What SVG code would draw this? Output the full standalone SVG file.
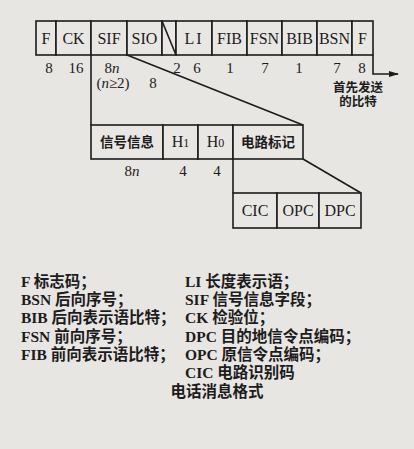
<svg xmlns="http://www.w3.org/2000/svg" width="414" height="449" viewBox="0 0 414 449">
<style>
.bg{fill:#e8e6e3}
.cell{fill:#e9e7e4;stroke:#1c1c1c;stroke-width:1.6}
.ln{fill:none;stroke:#1c1c1c;stroke-width:1.6}
.lb{font-family:"Liberation Serif","Noto Sans CJK SC",serif;font-size:16px;fill:#1c1c1c;text-anchor:middle}
.cn{font-family:"Noto Sans CJK SC",sans-serif;font-size:13.5px;font-weight:bold;fill:#1c1c1c;text-anchor:middle}
.fb{font-family:"Liberation Sans","Noto Sans CJK SC",sans-serif;font-size:12.5px;font-weight:bold;fill:#1c1c1c;text-anchor:middle}
.num{font-family:"Liberation Serif",serif;font-size:15px;fill:#1c1c1c;text-anchor:middle}
.lg{font-family:"Liberation Serif","Noto Sans CJK SC",serif;font-size:15.5px;fill:#1c1c1c;font-weight:bold}
.ti{font-family:"Noto Sans CJK SC",sans-serif;font-size:15.5px;font-weight:bold;fill:#1c1c1c;text-anchor:middle}
</style>
<defs>
<marker id="ah" markerWidth="10" markerHeight="8" refX="9" refY="4" orient="auto" markerUnits="userSpaceOnUse">
<path d="M0,1 L10,4 L0,7 Z" fill="#1c1c1c"/>
</marker>
</defs>
<rect class="bg" x="0" y="0" width="414" height="449"/>
<g id="row1">
<g id="f1"><rect class="cell" x="36" y="21" width="20" height="34"/><text class="lb" x="46" y="44">F</text></g>
<g id="ck"><rect class="cell" x="56" y="21" width="35" height="34"/><text class="lb" x="73.5" y="44">CK</text></g>
<g id="sif"><rect class="cell" x="91" y="21" width="36" height="34"/><text class="lb" x="109" y="44">SIF</text></g>
<g id="sio"><rect class="cell" x="127" y="21" width="35" height="34"/><text class="lb" x="144.5" y="44">SIO</text></g>
<g id="spare"><rect class="cell" x="162" y="21" width="14" height="34"/><line class="ln" x1="162" y1="21" x2="176" y2="55"/></g>
<g id="li"><rect class="cell" x="176" y="21" width="36" height="34"/><text class="lb" x="194" y="44" letter-spacing="2">LI</text></g>
<g id="fib"><rect class="cell" x="212" y="21" width="35" height="34"/><text class="lb" x="229.5" y="44">FIB</text></g>
<g id="fsn"><rect class="cell" x="247" y="21" width="35" height="34"/><text class="lb" x="264.5" y="44">FSN</text></g>
<g id="bib"><rect class="cell" x="282" y="21" width="35" height="34"/><text class="lb" x="299.5" y="44">BIB</text></g>
<g id="bsn"><rect class="cell" x="317" y="21" width="35" height="34"/><text class="lb" x="334.5" y="44">BSN</text></g>
<g id="f2"><rect class="cell" x="352" y="21" width="21" height="34"/><text class="lb" x="362.5" y="44">F</text></g>
</g>
<g id="row1-lengths">
<text class="num" x="49" y="73">8</text>
<text class="num" x="76" y="73">16</text>
<text class="num" x="112" y="73">8<tspan font-style="italic">n</tspan></text>
<text class="num" x="113" y="88">(<tspan font-style="italic">n</tspan>≥2)</text>
<text class="num" x="153" y="88">8</text>
<text class="num" x="177" y="73">2</text>
<text class="num" x="197" y="73">6</text>
<text class="num" x="230" y="73">1</text>
<text class="num" x="265" y="73">7</text>
<text class="num" x="299" y="73">1</text>
<text class="num" x="337" y="73">7</text>
<text class="num" x="362" y="73">8</text>
</g>
<g id="first-bit">
<text class="fb" x="358" y="91.5">首先发送</text>
<text class="fb" x="358" y="106">的比特</text>
</g>
<g id="row2">
<g id="info"><rect class="cell" x="91" y="125" width="72" height="34"/><text class="cn" x="127" y="147">信号信息</text></g>
<g id="h1"><rect class="cell" x="163" y="125" width="35" height="34"/><text class="lb" x="180.5" y="147">H<tspan font-size="12">1</tspan></text></g>
<g id="h0"><rect class="cell" x="198" y="125" width="35" height="34"/><text class="lb" x="215.5" y="147">H<tspan font-size="12">0</tspan></text></g>
<g id="label"><rect class="cell" x="233" y="125" width="70" height="34"/><text class="cn" x="268" y="147">电路标记</text></g>
</g>
<g id="row2-lengths">
<text class="num" x="132" y="176">8<tspan font-style="italic">n</tspan></text>
<text class="num" x="183" y="176">4</text>
<text class="num" x="217" y="176">4</text>
</g>
<g id="row3">
<g id="cic"><rect class="cell" x="233" y="193" width="44" height="35"/><text class="lb" x="255" y="216">CIC</text></g>
<g id="opc"><rect class="cell" x="277" y="193" width="42" height="35"/><text class="lb" x="298" y="216">OPC</text></g>
<g id="dpc"><rect class="cell" x="319" y="193" width="42" height="35"/><text class="lb" x="340" y="216">DPC</text></g>
</g>
<g id="connectors">
<line class="ln" x1="91" y1="55" x2="91" y2="125"/>
<line class="ln" x1="127" y1="55" x2="303" y2="125"/>
<line class="ln" x1="233" y1="159" x2="233" y2="193"/>
<line class="ln" x1="303" y1="159" x2="361" y2="193"/>
<polyline class="ln" points="373,55 373,74 398,74" marker-end="url(#ah)"/>
</g>
<g id="legend">
<text class="lg" x="21" y="287">F 标志码；</text>
<text class="lg" x="21" y="305">BSN 后向序号；</text>
<text class="lg" x="21" y="323">BIB 后向表示语比特；</text>
<text class="lg" x="21" y="342">FSN 前向序号；</text>
<text class="lg" x="21" y="360">FIB 前向表示语比特；</text>
<text class="lg" x="185" y="287">LI 长度表示语；</text>
<text class="lg" x="185" y="305">SIF 信号信息字段；</text>
<text class="lg" x="185" y="323">CK 检验位；</text>
<text class="lg" x="185" y="342">DPC 目的地信令点编码；</text>
<text class="lg" x="185" y="360">OPC 原信令点编码；</text>
<text class="lg" x="185" y="378">CIC 电路识别码</text>
<text class="ti" x="217" y="397">电话消息格式</text>
</g>
</svg>
